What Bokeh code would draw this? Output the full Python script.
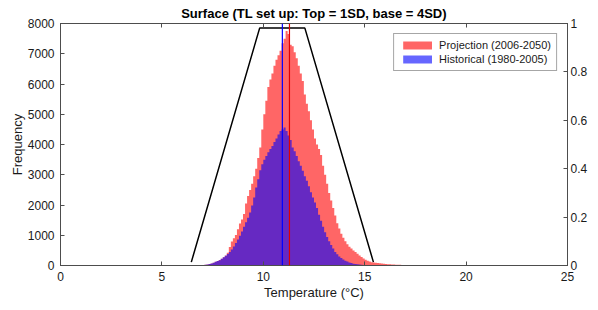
import numpy as np
from bokeh.plotting import figure
from bokeh.models import (Range1d, LinearAxis, Span, Legend, LegendItem,
                          FixedTicker, ColumnDataSource)
from bokeh.embed import file_html
from bokeh.resources import INLINE

# ---- data ----
bin_start = 6.8
bin_width = 0.1

projection_counts = [
    5, 10, 15, 25, 35, 50, 70, 95, 120, 150,
    180, 220, 270, 330, 420, 610, 790, 900, 1010, 1200,
    1390, 1520, 1700, 2050, 2300, 2500, 2700, 2950, 3200, 3550,
    3900, 4500, 5000, 5450, 5900, 6150, 6350, 6600, 6800, 6950,
    7100, 7350, 7500, 7750, 7650, 7300, 7250, 7050, 6850, 6600,
    6350, 6100, 5650, 5350, 5100, 4800, 4500, 4200, 4000, 3850,
    3650, 3300, 3000, 2700, 2400, 2150, 1900, 1650, 1400, 1220,
    1050, 920, 800, 700, 620, 560, 500, 450, 390, 330,
    280, 230, 190, 160, 130, 110, 100, 90, 80, 75,
    70, 60, 50, 45, 40, 35, 30, 28, 25, 22,
    18, 14, 10, 5,
]

historical_counts = [
    5, 10, 18, 25, 35, 50, 70, 95, 120, 145,
    175, 220, 270, 320, 380, 450, 530, 630, 740, 860,
    980, 1120, 1280, 1430, 1580, 1750, 1980, 2250, 2580, 2850,
    3150, 3350, 3500, 3620, 3740, 3850, 3950, 4080, 4200, 4330,
    4450, 4500, 4560, 4450, 4300, 4150, 3900, 3780, 3620, 3450,
    3300, 3130, 2950, 2800, 2620, 2420, 2250, 2080, 1900, 1680,
    1480, 1280, 1100, 940, 800, 680, 560, 450, 370, 300,
    250, 200, 160, 130, 100, 80, 60, 50, 40, 32,
    25, 20, 15, 12, 9, 6, 4, 3, 0, 0,
    0, 0, 0, 0, 0, 0, 0, 0, 0, 0,
    0, 0, 0, 0,
]

historical_mean = 10.94
projection_mean = 11.29

# tolerance-limit trapezoid (right axis, 0..1)
tl_x = [6.45, 9.82, 12.05, 15.43]
tl_y = [0.014, 0.981, 0.981, 0.014]

x_ticks = [0, 5, 10, 15, 20, 25]
y_ticks = [0, 1000, 2000, 3000, 4000, 5000, 6000, 7000, 8000]
right_ticks = [0, 0.2, 0.4, 0.6, 0.8, 1]

title_text = "Surface (TL set up: Top = 1SD, base = 4SD)"
legend_labels = ["Projection (2006-2050)", "Historical (1980-2005)"]

# ---- figure ----
FONT = "Liberation Sans"
AX = "#4d4d4d"

p = figure(width=590, height=302, output_backend="svg", toolbar_location=None,
           x_range=Range1d(0, 25), y_range=Range1d(0, 8000),
           x_axis_label="Temperature (°C)", y_axis_label="Frequency",
           title=title_text)
p.extra_y_ranges = {"right": Range1d(0, 1)}

p.title.align = "center"
p.title.text_font = FONT
p.title.text_font_size = "13px"
p.title.text_font_style = "bold"
p.title.text_color = "black"
p.title.offset = 0
p.title.standoff = 6

p.xgrid.visible = False
p.ygrid.visible = False
p.outline_line_color = AX
p.outline_line_width = 1
p.background_fill_color = "white"
p.border_fill_color = "white"
p.min_border_left = 60
p.min_border_right = 4
p.min_border_top = 16
p.min_border_bottom = 4

n = len(projection_counts)
edges = bin_start + bin_width * np.arange(n + 1)
src = ColumnDataSource(dict(
    x=edges,
    zero=np.zeros(n + 1),
    proj=list(projection_counts) + [0],
    hist=list(historical_counts) + [0],
))
r_proj = p.varea_step(x="x", y1="zero", y2="proj", step_mode="after", source=src,
                      fill_color=(255, 0, 0), fill_alpha=0.6)
r_hist = p.varea_step(x="x", y1="zero", y2="hist", step_mode="after", source=src,
                      fill_color=(0, 0, 255), fill_alpha=0.6)

p.add_layout(Span(location=historical_mean, dimension="height",
                  line_color="blue", line_width=1.2))
p.add_layout(Span(location=projection_mean, dimension="height",
                  line_color="#e00000", line_width=1.2))

p.line(x=tl_x, y=tl_y, y_range_name="right", line_color="black", line_width=1.5)


def style_axis(ax):
    ax.axis_line_color = AX
    ax.major_tick_line_color = AX
    ax.major_tick_in = 4
    ax.major_tick_out = 0
    ax.minor_tick_line_color = None
    ax.major_label_text_font = FONT
    ax.major_label_text_font_size = "12px"
    ax.major_label_text_color = "#1a1a1a"
    ax.major_label_standoff = 5
    ax.axis_label_text_font = FONT
    ax.axis_label_text_font_size = "13px"
    ax.axis_label_text_font_style = "normal"
    ax.axis_label_text_color = "#1a1a1a"
    ax.axis_label_standoff = 4


xa = p.xaxis[0]
style_axis(xa)
xa.ticker = FixedTicker(ticks=x_ticks)
xa.major_label_standoff = 6
xa.axis_label_standoff = 1
ya = p.yaxis[0]
style_axis(ya)
ya.ticker = FixedTicker(ticks=y_ticks)
ya.major_label_standoff = 6
ya.axis_label_standoff = 0

top_axis = LinearAxis()
style_axis(top_axis)
top_axis.ticker = FixedTicker(ticks=x_ticks)
top_axis.major_label_text_color = None
top_axis.major_label_standoff = 0
p.add_layout(top_axis, "above")

right_axis = LinearAxis(y_range_name="right")
style_axis(right_axis)
right_axis.ticker = FixedTicker(ticks=right_ticks)
right_axis.major_label_standoff = 3
p.add_layout(right_axis, "right")

legend = Legend(items=[LegendItem(label=legend_labels[0], renderers=[r_proj]),
                       LegendItem(label=legend_labels[1], renderers=[r_hist])],
                location="top_right")
legend.label_text_font = FONT
legend.label_text_font_size = "11px"
legend.label_text_color = "#1a1a1a"
legend.glyph_width = 36
legend.glyph_height = 10
legend.label_height = 11
legend.label_standoff = 4
legend.spacing = 2
legend.padding = 5
legend.margin = 10
legend.border_line_color = AX
legend.border_line_width = 1
legend.background_fill_alpha = 1
p.add_layout(legend)

open("out.html", "w").write(file_html(p, INLINE))
